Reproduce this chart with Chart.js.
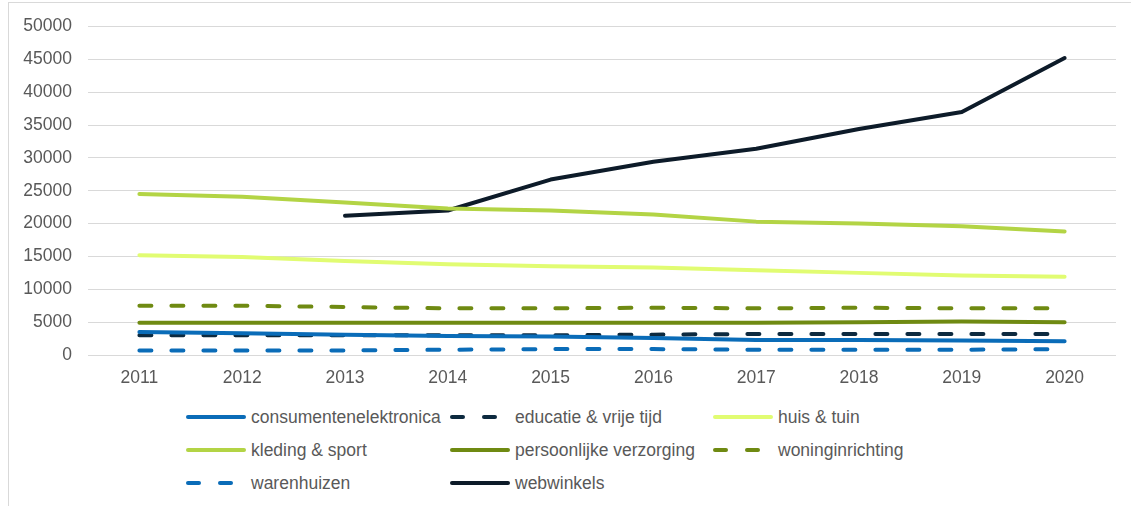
<!DOCTYPE html>
<html>
<head>
<meta charset="utf-8">
<script src="https://cdn.jsdelivr.net/npm/chart.js@4"></script>
<style>
  body { margin: 0; background: #fff; font-family: "Liberation Sans", Arial, sans-serif; }
  #frame { position: absolute; left: 8px; top: 2px; width: 1140px; height: 520px;
           border-left: 1px solid #d9d9d9; border-top: 1px solid #d9d9d9; }
  #wrap { position: absolute; left: 0; top: 0; width: 1131px; height: 400px; }
  #legend { position: absolute; left: 0; top: 0; }
  .item { position: absolute; height: 22px; display: flex; align-items: center;
          color: #595959; font-size: 17.5px; white-space: nowrap; }
  .sample { position: relative; width: 60px; height: 4px; margin-right: 5px; }
  .sample span { position: absolute; top: 0; height: 4px; border-radius: 2px; }
</style>
</head>
<body>
<div id="frame"></div>
<div id="wrap"><canvas id="lineChart" width="1131" height="400"></canvas></div>
<div id="legend"></div>
<script>
const years = ['2011', '2012', '2013', '2014', '2015', '2016', '2017', '2018', '2019', '2020'];

const consumentenelektronica = [3500, 3300, 3100, 2900, 2800, 2600, 2300, 2300, 2200, 2100];
const educatie = [3000, 3000, 3000, 3000, 3000, 3100, 3200, 3200, 3200, 3200];
const huisTuin = [15200, 14900, 14300, 13800, 13500, 13300, 12900, 12500, 12100, 11900];
const kledingSport = [24500, 24100, 23200, 22300, 22000, 21400, 20300, 20000, 19600, 18800];
const persoonlijkeVerzorging = [4900, 4900, 4900, 4900, 4900, 4900, 4900, 5000, 5100, 5000];
const woninginrichting = [7500, 7500, 7300, 7100, 7100, 7200, 7100, 7200, 7100, 7100];
const warenhuizen = [700, 700, 700, 800, 900, 900, 800, 800, 800, 900];
const webwinkels = [null, null, 21200, 22000, 26700, 29400, 31400, 34400, 37000, 45200];

const yTicks = [0, 5000, 10000, 15000, 20000, 25000, 30000, 35000, 40000, 45000, 50000];

const series = [
    { label: 'consumentenelektronica', data: consumentenelektronica, color: '#0a6cb8', dashed: false },
    { label: 'educatie & vrije tijd', data: educatie, color: '#0d2a3f', dashed: true },
    { label: 'huis & tuin', data: huisTuin, color: '#e1fc72', dashed: false },
    { label: 'kleding & sport', data: kledingSport, color: '#b3d445', dashed: false },
    { label: 'persoonlijke verzorging', data: persoonlijkeVerzorging, color: '#6f8a12', dashed: false },
    { label: 'woninginrichting', data: woninginrichting, color: '#6f8a12', dashed: true },
    { label: 'warenhuizen', data: warenhuizen, color: '#0a6cb8', dashed: true },
    { label: 'webwinkels', data: webwinkels, color: '#0d1b29', dashed: false }
];

const tickFont = { family: 'Liberation Sans', size: 17.5 };
const ctx = document.getElementById('lineChart').getContext('2d');

new Chart(ctx, {
    type: 'line',
    data: {
        labels: years,
        datasets: series.map(s => ({
            label: s.label,
            data: s.data,
            borderColor: s.color,
            backgroundColor: s.color,
            borderWidth: 4,
            borderDash: s.dashed ? [12, 20] : [],
            borderCapStyle: 'round',
            borderJoinStyle: 'round',
            pointRadius: 0,
            tension: 0,
            fill: false
        }))
    },
    options: {
        responsive: false,
        animation: false,
        layout: { padding: { top: 25, right: 15, left: 0, bottom: 0 } },
        plugins: {
            legend: { display: false },
            tooltip: { enabled: false }
        },
        scales: {
            x: {
                offset: true,
                grid: { display: false, drawTicks: false },
                border: { display: false },
                ticks: { color: '#595959', font: tickFont, padding: 13, maxRotation: 0 },
                afterFit: scale => { scale.height = 45; }
            },
            y: {
                min: 0,
                max: 50000,
                afterBuildTicks: scale => { scale.ticks = yTicks.map(v => ({ value: v })); },
                grid: { color: '#d9d9d9', lineWidth: 1, drawTicks: false },
                border: { display: false },
                ticks: { color: '#595959', font: tickFont, padding: 16, callback: v => String(v) },
                afterFit: scale => { scale.width = 88; }
            }
        }
    }
});

// legend in three columns like the original
const legend = document.getElementById('legend');
const colX = [186, 450, 713];
const rowY = [417, 450, 483];
series.forEach((s, i) => {
    const item = document.createElement('div');
    item.className = 'item';
    item.style.left = colX[i % 3] + 'px';
    item.style.top = (rowY[Math.floor(i / 3)] - 11) + 'px';
    const sample = document.createElement('div');
    sample.className = 'sample';
    const parts = s.dashed ? [[0, 15], [32, 15]] : [[0, 60]];
    parts.forEach(p => {
        const seg = document.createElement('span');
        seg.style.left = p[0] + 'px';
        seg.style.width = p[1] + 'px';
        seg.style.background = s.color;
        sample.appendChild(seg);
    });
    item.appendChild(sample);
    item.appendChild(document.createTextNode(s.label));
    legend.appendChild(item);
});
</script>
</body>
</html>
